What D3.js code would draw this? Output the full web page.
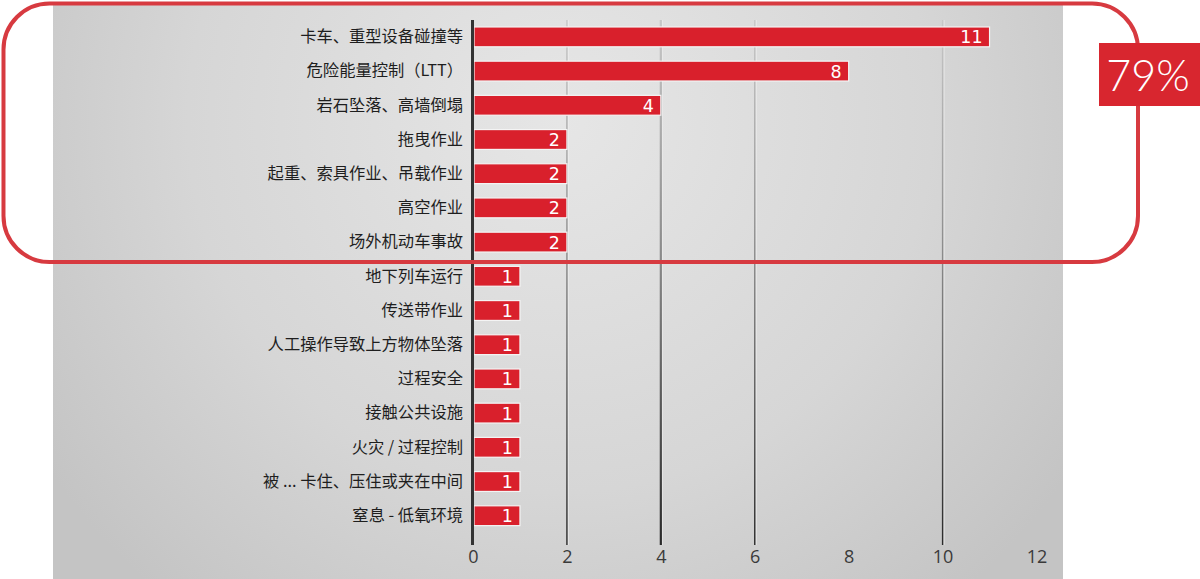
<!DOCTYPE html>
<html>
<head>
<meta charset="utf-8">
<script src="https://cdn.jsdelivr.net/npm/d3@7"></script>
<style>
  html, body { margin: 0; padding: 0; background: #ffffff; }
  svg { display: block; }
</style>
</head>
<body>
<svg id="chart" width="1200" height="579"></svg>
<script>
const categories = [
  "卡车、重型设备碰撞等",
  "危险能量控制（LTT）",
  "岩石坠落、高墙倒塌",
  "拖曳作业",
  "起重、索具作业、吊载作业",
  "高空作业",
  "场外机动车事故",
  "地下列车运行",
  "传送带作业",
  "人工操作导致上方物体坠落",
  "过程安全",
  "接触公共设施",
  "火灾 / 过程控制",
  "被 ... 卡住、压住或夹在中间",
  "窒息 - 低氧环境"
];
const values = [11, 8, 4, 2, 2, 2, 2, 1, 1, 1, 1, 1, 1, 1, 1];
const tickValues = [0, 2, 4, 6, 8, 10, 12];
const gridValues = [2, 4, 6, 10];
const highlightText = "79%";

const svg = d3.select("#chart");
const defs = svg.append("defs");

const bg = defs.append("radialGradient").attr("id", "bgGrad")
  .attr("gradientUnits", "userSpaceOnUse")
  .attr("cx", 560).attr("cy", 120).attr("r", 620);
bg.append("stop").attr("offset", "0").attr("stop-color", "#e6e6e6");
bg.append("stop").attr("offset", "0.6").attr("stop-color", "#d6d6d6");
bg.append("stop").attr("offset", "1").attr("stop-color", "#c4c4c4");

const gl = defs.append("linearGradient").attr("id", "gridGrad")
  .attr("gradientUnits", "userSpaceOnUse")
  .attr("x1", 0).attr("y1", 20).attr("x2", 0).attr("y2", 545);
gl.append("stop").attr("offset", "0").attr("stop-color", "#c8c8c8");
gl.append("stop").attr("offset", "0.45").attr("stop-color", "#8a8a8a");
gl.append("stop").attr("offset", "1").attr("stop-color", "#2a2a2a");

svg.append("rect")
  .attr("x", 53).attr("y", 5).attr("width", 1010).attr("height", 574)
  .attr("fill", "url(#bgGrad)");

const x = d3.scaleLinear().domain([0, 12]).range([473, 1036.5]);
const y = d3.scaleBand().domain(categories).range([12.6, 540]).padding(0.42);

const grid = svg.append("g");
grid.selectAll("line.hl").data(gridValues).join("line")
  .attr("x1", d => x(d) + 1.5).attr("x2", d => x(d) + 1.5)
  .attr("y1", 20).attr("y2", 545)
  .attr("stroke", "#efefef").attr("stroke-width", 1).attr("opacity", 0.7);
grid.selectAll("line.g").data(gridValues).join("line")
  .attr("x1", d => x(d)).attr("x2", d => x(d))
  .attr("y1", 20).attr("y2", 545)
  .attr("stroke", "url(#gridGrad)")
  .attr("stroke-width", d => d === 4 ? 2.2 : 1.4);

const xAxis = d3.axisBottom(x).tickValues(tickValues).tickSize(0).tickPadding(0);
const ax = svg.append("g").attr("transform", "translate(0,545)").call(xAxis);
ax.select(".domain").remove();
ax.selectAll("text")
  .attr("dy", "0.35em").attr("y", 12)
  .attr("fill", "#3a3a3a")
  .style("font-family", "'Open Sans', 'DejaVu Sans', sans-serif")
  .style("font-size", "18px");

const yAxis = d3.axisLeft(y).tickSize(0).tickPadding(0);
const ay = svg.append("g").attr("transform", "translate(463,0)").call(yAxis);
ay.select(".domain").remove();
ay.selectAll("text")
  .attr("fill", "#1e1e1e")
  .style("font-family", "'Noto Sans CJK SC', sans-serif")
  .style("font-size", "16.3px");

svg.append("g").selectAll("rect").data(values).join("rect")
  .attr("x", x(0) + 1)
  .attr("y", (d, i) => y(categories[i]))
  .attr("width", d => x(d) - x(0) - 1)
  .attr("height", y.bandwidth())
  .attr("fill", "#d9202c")
  .attr("stroke", "#f4f4f4")
  .attr("stroke-width", 1.2);

svg.append("g").selectAll("text").data(values).join("text")
  .attr("x", d => x(d) - 7)
  .attr("y", (d, i) => y(categories[i]) + y.bandwidth() / 2)
  .attr("dy", "0.37em")
  .attr("text-anchor", "end")
  .attr("fill", "#ffffff")
  .style("font-family", "'DejaVu Sans', sans-serif")
  .style("font-size", "17.5px")
  .text(d => d);

svg.append("line")
  .attr("x1", x(0) - 0.5).attr("x2", x(0) - 0.5)
  .attr("y1", 20).attr("y2", 545)
  .attr("stroke", "#333").attr("stroke-width", 3);

svg.append("rect")
  .attr("x", 3.5).attr("y", 3.5).attr("width", 1134.5).attr("height", 258.5)
  .attr("rx", 46).attr("ry", 46)
  .attr("fill", "none")
  .attr("stroke", "#d73a40").attr("stroke-width", 4);

svg.append("rect")
  .attr("x", 1099).attr("y", 43).attr("width", 101).attr("height", 63)
  .attr("fill", "#d8262f");
svg.append("text")
  .attr("x", 1148).attr("y", 76)
  .attr("dy", "0.35em")
  .attr("text-anchor", "middle")
  .attr("fill", "#ffffff")
  .style("font-family", "Lato, 'Open Sans', sans-serif")
  .style("font-weight", 300)
  .style("font-size", "43px")
  .text(highlightText);
</script>
</body>
</html>
